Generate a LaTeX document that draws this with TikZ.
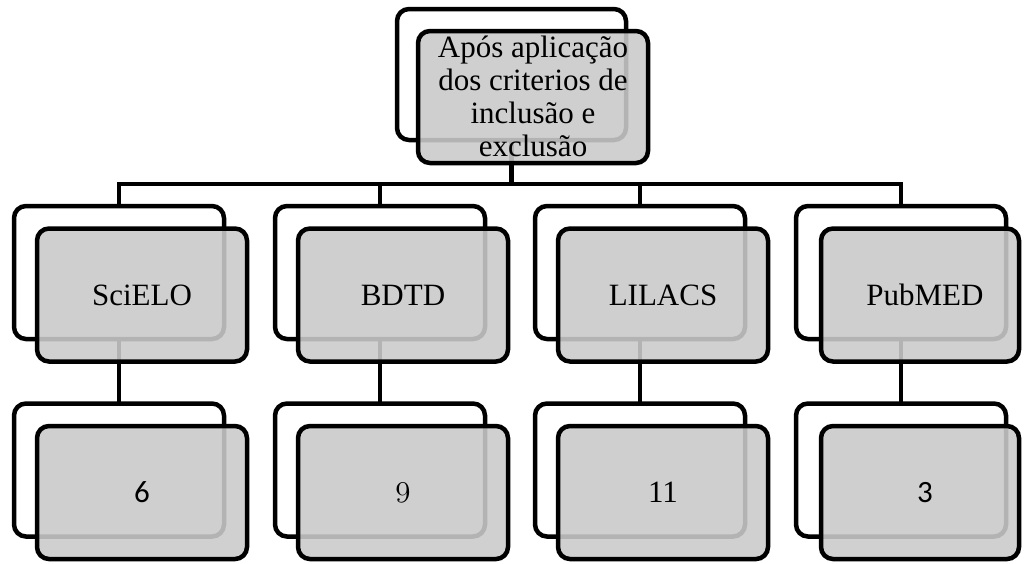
\RequirePackage{fix-cm}
\documentclass[tikz,border=0pt]{standalone}
\usepackage{fontspec}
\setmainfont{Liberation Serif}
\newfontfamily\calfont{Carlito}
\definecolor{boxgray}{RGB}{202,202,202}
\begin{document}
\begin{tikzpicture}[x=1pt,y=-1pt,
  back/.style={draw=black, line width=4.5pt, rounded corners=12pt, fill=white,
    minimum width=210pt, minimum height=133pt, inner sep=0pt, outer sep=0pt},
  front/.style={back, fill=boxgray, fill opacity=0.89, text opacity=1,
    font=\fontsize{31}{33}\selectfont},
  conn/.style={draw=black, line width=4.5pt},
  lbl/.style={font=\fontsize{31}{33}\selectfont, inner sep=0pt}]
\useasboundingbox (0,0) rectangle (1024,563);
% back boxes
\node[back, minimum width=229pt, minimum height=131pt] (tb) at (511.5,74.5) {};
\node[back] (b1) at (119,272.5) {};
\node[back] (b2) at (380,272.5) {};
\node[back] (b3) at (640,272.5) {};
\node[back] (b4) at (901,272.5) {};
\node[back] (c1) at (119,470) {};
\node[back] (c2) at (380,470) {};
\node[back] (c3) at (640,470) {};
\node[back] (c4) at (901,470) {};
% connectors
\coordinate (bar) at (511.5,184);
\draw[conn] (tb.south) -- (bar);
\draw[conn] (b1.north) |- (bar) -| (b4.north);
\draw[conn] (bar) -| (b2.north);
\draw[conn] (bar) -| (b3.north);
\draw[conn] (b1.south) -- (c1.north);
\draw[conn] (b2.south) -- (c2.north);
\draw[conn] (b3.south) -- (c3.north);
\draw[conn] (b4.south) -- (c4.north);
% front boxes
\node[front, minimum width=230pt, minimum height=132pt] (tf) at (533,97) {};
\node[lbl, align=center] (ttxt) at (533,96) {Após aplicação\\dos criterios de\\inclusão e\\exclusão};
\node[front] (f1) at (142,295) {SciELO};
\node[front] (f2) at (403,295) {BDTD};
\node[front] (f3) at (663,295) {LILACS};
\node[front, minimum width=198pt, text width=198pt, align=center] (f4) at (920,295) {\hspace*{10pt}PubMED};
\node[front] (g1) at (142,492.5) {\calfont 6};
\node[front] (g2) at (403,492.5) {\fontsize{31}{33}\usefont{OML}{cmm}{m}{it}9};
\node[front] (g3) at (663,492.5) {11};
\node[front, minimum width=198pt, text width=198pt, align=center] (g4) at (920,492.5) {\hspace*{10pt}\calfont 3};
\end{tikzpicture}
\end{document}
